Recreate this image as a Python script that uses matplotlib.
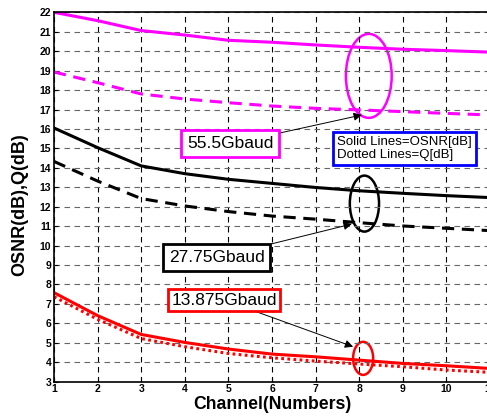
import matplotlib
matplotlib.use("Agg")
from matplotlib import pyplot as plt
from matplotlib.patches import Ellipse

plt.rcParams['font.family'] = ['Liberation Sans', 'DejaVu Sans']

channels = [1, 2, 3, 4, 5, 6, 7, 8, 9, 10, 11]

# OSNR (solid) and Q (dashed / dotted) for each symbol rate
osnr_555 = [22.0, 21.57, 21.06, 20.83, 20.56, 20.46, 20.32, 20.2, 20.1, 20.03, 19.95]
q_555 = [18.93, 18.38, 17.8, 17.54, 17.35, 17.18, 17.06, 16.98, 16.89, 16.8, 16.72]
osnr_2775 = [16.05, 15.04, 14.1, 13.7, 13.41, 13.2, 12.99, 12.82, 12.69, 12.57, 12.47]
q_2775 = [14.33, 13.32, 12.42, 12.04, 11.75, 11.52, 11.36, 11.18, 11.01, 10.89, 10.77]
osnr_13875 = [7.58, 6.4, 5.43, 5.02, 4.68, 4.42, 4.28, 4.11, 3.94, 3.82, 3.68]
q_13875 = [7.37, 6.21, 5.22, 4.8, 4.45, 4.23, 4.06, 3.91, 3.77, 3.6, 3.48]

y_ticks = list(range(3, 23))
x_ticks = list(range(1, 12))

fig = plt.figure(figsize=(4.87, 4.16), dpi=100)
ax = fig.add_axes([54 / 487, 34.3 / 416, 436 / 487, 369.4 / 416])

ax.plot(channels, osnr_555, color="#ff00ff", lw=2.2)
ax.plot(channels, q_555, color="#ff00ff", lw=2.2, ls=(0, (4, 2.5)))
ax.plot(channels, osnr_2775, color="black", lw=2.2)
ax.plot(channels, q_2775, color="black", lw=2.2, ls=(0, (4, 2.5)))
ax.plot(channels, osnr_13875, color="red", lw=2.2)
ax.plot(channels, q_13875, color="red", lw=2.2, ls=(0, (0.9, 1.1)))

ax.set_xlim(1, 11)
ax.set_ylim(3, 22)
ax.set_xticks(x_ticks)
ax.set_yticks(y_ticks)
ax.tick_params(direction="in", length=3, labelsize=7.5, pad=2)
for lab in ax.get_xticklabels() + ax.get_yticklabels():
    lab.set_fontweight("bold")
ax.xaxis.grid(True, color="black", ls=(0, (5, 4)), lw=0.8)
ax.yaxis.grid(True, color="0.4", ls=(0, (5, 4)), lw=0.8)
for sp in ax.spines.values():
    sp.set_linewidth(1.2)

ax.set_xlabel("Channel(Numbers)", fontsize=12.7, fontweight="bold", labelpad=1)
ax.set_ylabel("OSNR(dB),Q(dB)", fontsize=13, fontweight="bold")
ax.yaxis.set_label_coords(-0.058, 0.48)

# ellipses marking each group
ax.add_patch(Ellipse((8.22, 18.73), 1.05, 4.32, fill=False, ec="#ff00ff", lw=1.8))
ax.add_patch(Ellipse((8.12, 12.16), 0.67, 2.88, fill=False, ec="black", lw=1.8))
ax.add_patch(Ellipse((8.09, 4.2), 0.46, 1.7, fill=False, ec="red", lw=1.8))

arrow = dict(arrowstyle="-|>", color="black", lw=0.7, mutation_scale=12, shrinkA=0, shrinkB=0)
ax.annotate("55.5Gbaud", xy=(8.06, 16.72), xytext=(5.04, 15.23), fontsize=12.5,
            ha="center", va="center", arrowprops=arrow,
            bbox=dict(boxstyle="square,pad=0.35", fc="white", ec="#ff00ff", lw=2))
ax.annotate("27.75Gbaud", xy=(7.83, 11.11), xytext=(4.73, 9.39), fontsize=12.5,
            ha="center", va="center", arrowprops=arrow,
            bbox=dict(boxstyle="square,pad=0.33", fc="white", ec="black", lw=2))
ax.annotate("13.875Gbaud", xy=(7.86, 4.8), xytext=(4.9, 7.2), fontsize=12.5,
            ha="center", va="center", arrowprops=arrow,
            bbox=dict(boxstyle="square,pad=0.18", fc="white", ec="red", lw=2))
ax.text(7.5, 15.0, "Solid Lines=OSNR[dB]\nDotted Lines=Q[dB]", fontsize=9.5,
        ha="left", va="center", linespacing=1.15,
        bbox=dict(boxstyle="square,pad=0.3", fc="white", ec="blue", lw=2))

fig.savefig("out.png", dpi=100)
